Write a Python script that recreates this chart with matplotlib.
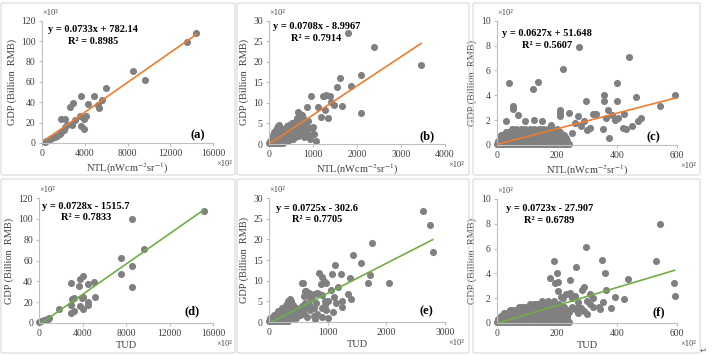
import matplotlib
matplotlib.use("Agg")
import matplotlib.pyplot as plt
from matplotlib.patches import FancyBboxPatch
import numpy as np

plt.rcParams['font.family'] = ['Liberation Serif', 'DejaVu Serif']
plt.rcParams['mathtext.fontset'] = 'stix'

# ---------------- data (x and y in units of x10^2 as shown on axes) -------------
a_x = [14447, 13608, 9632, 8544, 5996, 5624, 5282, 5313, 4909, 4319, 4132, 3884, 3573,
       3604, 3604, 3884, 2889, 2641, 2113, 1802, 2827, 3076, 2330, 2175, 1802, 1709,
       2082, 1212, 932, 621, 404, 777, 311, 1398, 3960]
a_y = [107.6, 99.4, 62.3, 70.8, 54.4, 42.3, 37.0, 34.8, 46.6, 38.0, 26.2, 24.9, 26.2,
       45.9, 16.4, 13.8, 39.7, 35.4, 23.9, 23.3, 17.4, 22.3, 17.4, 15.7, 10.8, 8.5,
       13.1, 5.9, 5.2, 3.3, 2.0, 3.9, 1.0, 6.6, 23.5]

b_x = [1788, 2386, 3455, 2091, 1621, 1864, 1545, 960, 1220, 1260, 1290, 1386, 1121, 1409,
       1477, 1667, 1273, 1333, 856, 2080, 985, 1030, 1068, 909, 742, 795, 667, 880, 1180,
       10, 40, 80, 120, 160, 200, 240, 280, 320,
       30, 70, 110, 150, 190, 230, 270, 310, 350, 390, 430,
       60, 100, 140, 180, 220, 260, 300, 340, 380, 420, 460, 500,
       90, 130, 170, 210, 250, 290, 330, 370, 410, 450, 490, 530, 570,
       120, 160, 200, 240, 280, 320, 360, 400, 440, 480, 520, 560, 600, 640,
       180, 220, 300, 380, 430, 470, 510, 550, 590, 630, 670, 710,
       210, 230, 420, 500, 540, 580, 620, 660, 700, 740,
       520, 560, 600, 640, 680, 720, 760, 800,
       610, 650, 700, 760, 820, 640, 700, 780, 700, 750,
       600, 650, 700, 750, 800, 850, 900, 930, 1000,
       150, 190, 260, 340, 400, 460, 260, 350, 450, 540, 620, 680, 720, 780, 840]
b_y = [26.9, 23.5, 19.2, 16.9, 16.1, 14.2, 13.8, 11.6, 11.8, 11.6, 11.9, 11.8, 9.1, 10.3,
       9.5, 9.2, 8.3, 6.4, 9.1, 7.5, 3.8, 2.4, 0.7, 2.2, 4.4, 1.8, 7.9, 5.5, 6.5,
       0.2, 0.2, 0.2, 0.2, 0.2, 0.2, 0.2, 0.2, 0.2,
       0.8, 0.8, 0.8, 0.8, 0.8, 0.8, 0.8, 0.8, 0.8, 0.8, 0.8,
       1.5, 1.5, 1.5, 1.5, 1.5, 1.5, 1.5, 1.5, 1.5, 1.5, 1.5, 1.5,
       2.2, 2.2, 2.2, 2.2, 2.2, 2.2, 2.2, 2.2, 2.2, 2.2, 2.2, 2.2, 2.2,
       2.9, 2.9, 2.9, 2.9, 2.9, 2.9, 2.9, 2.9, 2.9, 2.9, 2.9, 2.9, 2.9, 2.9,
       3.6, 3.6, 3.6, 3.6, 3.6, 3.6, 3.6, 3.6, 3.6, 3.6, 3.6, 3.6,
       4.3, 4.6, 4.3, 4.3, 4.3, 4.3, 4.3, 4.3, 4.3, 4.3,
       5.0, 5.0, 5.0, 5.0, 5.0, 5.0, 5.0, 5.0,
       5.7, 5.7, 5.7, 5.7, 5.7, 6.4, 6.4, 6.4, 7.2, 7.0,
       1.6, 2.0, 2.4, 2.8, 3.2, 3.0, 3.8, 1.2, 4.2,
       3.3, 3.9, 3.9, 3.3, 4.0, 4.7, 1.1, 1.1, 1.1, 1.1, 1.9, 2.6, 4.7, 4.6, 4.0]

c_x = [273, 441, 219, 138, 39, 120, 400, 356, 356, 401, 463, 595, 545, 298, 52, 55, 210,
       210, 240, 210, 270, 320, 330, 362, 370, 385, 395, 405, 420, 430, 450, 470, 480,
       425, 355, 375, 290, 300, 230, 260, 280, 310, 250, 70, 30, 95, 125, 150, 180,
       0, 10, 20, 30, 40, 50, 60, 70, 80, 90, 100, 110, 120, 130, 140, 150, 160, 170, 180,
       190, 200, 210, 220, 230, 240,
       5, 15, 25, 35, 45, 55, 65, 75, 85, 95, 105, 115, 125, 135, 145, 155, 165, 175, 185,
       195, 205, 215, 225, 235,
       10, 20, 30, 40, 50, 60, 70, 80, 90, 100, 110, 120, 130, 140, 150, 160, 170, 180, 190,
       200, 210, 220, 230,
       15, 25, 35, 45, 55, 65, 75, 85, 95, 105, 115, 125, 135, 145, 155, 165, 175, 185, 195,
       205, 215, 225,
       30, 40, 50, 60, 70, 80, 90, 100, 110, 120, 130, 140, 150, 160, 170, 180, 190, 200, 210,
       50, 65, 80, 95, 110, 125, 140, 155, 170, 185, 200]
c_y = [7.9, 7.1, 6.1, 5.05, 5.0, 4.5, 5.0, 4.0, 3.5, 3.5, 3.85, 4.05, 3.15, 3.5, 3.1, 2.9,
       2.8, 2.6, 2.6, 2.3, 2.3, 2.5, 2.5, 2.2, 2.8, 2.4, 2.0, 2.2, 1.4, 1.3, 1.5, 1.9, 2.2,
       2.5, 1.3, 0.6, 1.9, 1.2, 0.05, 1.8, 1.5, 1.4, 1.0, 2.4, 1.9, 1.9, 2.0, 1.9, 1.6,
       0.05, 0.05, 0.05, 0.05, 0.05, 0.05, 0.05, 0.05, 0.05, 0.05, 0.05, 0.05, 0.05, 0.05,
       0.05, 0.05, 0.05, 0.05, 0.05, 0.05, 0.05, 0.05, 0.05, 0.05, 0.05,
       0.3, 0.3, 0.3, 0.3, 0.3, 0.3, 0.3, 0.3, 0.3, 0.3, 0.3, 0.3, 0.3, 0.3, 0.3, 0.3, 0.3,
       0.3, 0.3, 0.3, 0.3, 0.3, 0.3, 0.3,
       0.55, 0.55, 0.55, 0.55, 0.55, 0.55, 0.55, 0.55, 0.55, 0.55, 0.55, 0.55, 0.55, 0.55,
       0.55, 0.55, 0.55, 0.55, 0.55, 0.55, 0.55, 0.55, 0.55,
       0.8, 0.8, 0.8, 0.8, 0.8, 0.8, 0.8, 0.8, 0.8, 0.8, 0.8, 0.8, 0.8, 0.8, 0.8, 0.8, 0.8,
       0.8, 0.8, 0.8, 0.8, 0.8,
       1.05, 1.05, 1.05, 1.05, 1.05, 1.05, 1.05, 1.05, 1.05, 1.05, 1.05, 1.05, 1.05, 1.05,
       1.05, 1.05, 1.05, 1.05, 1.05,
       1.3, 1.3, 1.3, 1.3, 1.3, 1.3, 1.3, 1.3, 1.3, 1.3, 1.3]

d_x = [15142, 8490, 9624, 7509, 7478, 8490, 8490, 3985, 3739, 3647, 4444, 4996, 2912,
       4046, 3892, 3218, 3004, 2912, 3739, 4444, 4506, 4046, 5149, 3188, 2912, 1808,
       920, 674, 460, 123, 828, 0]
d_y = [107.8, 99.8, 70.9, 62.3, 46.9, 54.9, 35.0, 45.6, 42.4, 35.6, 37.2, 39.8, 38.2,
       25.4, 23.7, 24.4, 23.1, 17.3, 16.4, 20.5, 17.3, 13.5, 25.0, 11.6, 9.3, 13.5,
       5.1, 3.5, 2.6, 1.9, 3.9, 0.6]

e_x = [2630, 2750, 2790, 1760, 1440, 1566, 1120, 855, 905, 1076, 1235, 1383, 1691, 2050,
       1720, 581, 630, 1065, 1180, 1350, 1405, 1250, 1085, 1250, 790, 960, 1000, 900, 820,
       1100, 1150, 700, 760, 880, 940, 980,
       0, 40, 80, 120, 160, 200, 240, 280, 320,
       20, 60, 100, 140, 180, 220, 260, 300, 340, 380, 420, 460,
       80, 120, 160, 200, 240, 280, 320, 360, 400, 440, 480, 520,
       150, 190, 230, 270, 310, 350, 390, 430, 470, 510,
       220, 260, 300, 340, 380, 420, 460,
       290, 330, 370, 410, 330, 370, 355,
       520, 560, 600, 620, 650, 700, 720, 760, 800, 820, 860, 900, 950, 980, 600, 680,
       560, 620, 760, 900, 1000, 540, 580, 640, 690]
e_y = [26.8, 23.4, 16.9, 19.0, 16.2, 14.2, 13.9, 11.8, 11.0, 11.7, 11.5, 10.7, 9.4, 9.4,
       11.4, 9.4, 7.6, 7.7, 8.5, 6.8, 5.6, 5.0, 2.5, 3.7, 0.8, 4.0, 5.0, 6.5, 7.0,
       6.0, 4.5, 5.8, 6.8, 9.3, 10.0, 9.5,
       0.2, 0.2, 0.2, 0.2, 0.2, 0.2, 0.2, 0.2, 0.2,
       1.0, 1.0, 1.0, 1.0, 1.0, 1.0, 1.0, 1.0, 1.0, 1.0, 1.0, 1.0,
       1.8, 1.8, 1.8, 1.8, 1.8, 1.8, 1.8, 1.8, 1.8, 1.8, 1.8, 1.8,
       2.6, 2.6, 2.6, 2.6, 2.6, 2.6, 2.6, 2.6, 2.6, 2.6,
       3.4, 3.4, 3.4, 3.4, 3.4, 3.4, 3.4,
       4.2, 4.2, 4.2, 4.2, 5.0, 5.0, 5.6,
       2.5, 3.8, 2.0, 4.5, 1.3, 2.8, 5.5, 3.5, 4.5, 2.0, 6.8, 3.5, 5.0, 2.8, 6.2, 7.0,
       9.4, 7.6, 1.5, 1.2, 1.0, 3.3, 3.0, 3.6, 4.2]

f_x = [544, 530, 589, 592, 191, 296, 264, 350, 359, 200, 436, 364, 392, 424, 198, 178, 195,
       205, 245, 282, 290, 244, 205, 215, 230, 355, 340, 345, 380, 320, 310, 270,
       0, 10, 20, 30, 40, 50, 60, 70, 80, 90, 100, 110, 120, 130, 140, 150, 160, 170, 180,
       190, 200, 210, 220, 230, 240,
       5, 15, 25, 35, 45, 55, 65, 75, 85, 95, 105, 115, 125, 135, 145, 155, 165, 175, 185,
       195, 205, 215, 225, 235,
       15, 25, 35, 45, 55, 65, 75, 85, 95, 105, 115, 125, 135, 145, 155, 165, 175, 185, 195,
       205, 215, 225, 235,
       25, 35, 45, 55, 65, 75, 85, 95, 105, 115, 125, 135, 145, 155, 165, 175, 185, 195,
       205, 215, 225, 235,
       45, 55, 65, 75, 85, 95, 105, 115, 125, 135, 145, 155, 165, 175, 185, 195, 205, 215,
       225, 235,
       75, 85, 95, 105, 115, 125, 135, 145, 155, 165, 175, 185, 195, 205, 215, 225,
       110, 122, 134, 146, 158, 170, 182, 194, 206, 150, 170, 190,
       240, 250, 260, 270, 280, 290, 300, 310, 320, 250, 260, 270, 300, 240, 220]
f_y = [7.95, 5.0, 3.2, 2.2, 5.0, 6.1, 4.5, 5.1, 4.05, 4.0, 3.55, 2.7, 2.1, 1.9, 0.15, 3.6,
       3.2, 3.3, 3.5, 2.7, 2.9, 2.4, 2.6, 2.1, 2.3, 1.7, 1.3, 1.1, 1.2, 2.0, 2.3, 1.3,
       0.05, 0.05, 0.05, 0.05, 0.05, 0.05, 0.05, 0.05, 0.05, 0.05, 0.05, 0.05, 0.05, 0.05,
       0.05, 0.05, 0.05, 0.05, 0.05, 0.05, 0.05, 0.05, 0.05, 0.05, 0.05,
       0.3, 0.3, 0.3, 0.3, 0.3, 0.3, 0.3, 0.3, 0.3, 0.3, 0.3, 0.3, 0.3, 0.3, 0.3, 0.3, 0.3,
       0.3, 0.3, 0.3, 0.3, 0.3, 0.3, 0.3,
       0.55, 0.55, 0.55, 0.55, 0.55, 0.55, 0.55, 0.55, 0.55, 0.55, 0.55, 0.55, 0.55, 0.55,
       0.55, 0.55, 0.55, 0.55, 0.55, 0.55, 0.55, 0.55, 0.55,
       0.8, 0.8, 0.8, 0.8, 0.8, 0.8, 0.8, 0.8, 0.8, 0.8, 0.8, 0.8, 0.8, 0.8, 0.8, 0.8, 0.8,
       0.8, 0.8, 0.8, 0.8, 0.8,
       1.05, 1.05, 1.05, 1.05, 1.05, 1.05, 1.05, 1.05, 1.05, 1.05, 1.05, 1.05, 1.05, 1.05,
       1.05, 1.05, 1.05, 1.05, 1.05, 1.05,
       1.3, 1.3, 1.3, 1.3, 1.3, 1.3, 1.3, 1.3, 1.3, 1.3, 1.3, 1.3, 1.3, 1.3, 1.3, 1.3,
       1.55, 1.55, 1.55, 1.55, 1.55, 1.55, 1.55, 1.55, 1.55, 1.8, 1.8, 1.8,
       0.9, 1.3, 1.1, 0.8, 1.2, 1.0, 0.7, 1.5, 1.3, 2.0, 2.2, 1.7, 1.8, 2.3, 2.0]

slopes = [0.0733, 0.0708, 0.0627, 0.0728, 0.0725, 0.0723]
intercepts = [782.14, -8.9967, 51.648, -1515.7, -302.6, -27.907]
r2 = ["0.8985", "0.7914", "0.5607", "0.7833", "0.7705", "0.6789"]
eq_text = ["y = 0.0733x + 782.14", "y = 0.0708x - 8.9967", "y = 0.0627x + 51.648",
           "y = 0.0728x - 1515.7", "y = 0.0725x - 302.6", "y = 0.0723x - 27.907"]
panel_tags = ["(a)", "(b)", "(c)", "(d)", "(e)", "(f)"]
x_labels = ["NTL(nWcm$^{-2}$sr$^{-1}$)"] * 3 + ["TUD"] * 3
y_label = "GDP (Billion  RMB)"
x_ticks = [[0, 4000, 8000, 12000, 16000], [0, 1000, 2000, 3000, 4000], [0, 200, 400, 600],
           [0, 4000, 8000, 12000, 16000], [0, 1000, 2000, 3000], [0, 200, 400, 600]]
y_ticks = [[0, 20, 40, 60, 80, 100, 120], [0, 5, 10, 15, 20, 25, 30], [0, 2, 4, 6, 8, 10],
           [0, 20, 40, 60, 80, 100, 120], [0, 5, 10, 15, 20, 25, 30], [0, 2, 4, 6, 8, 10]]

xs = [a_x, b_x, c_x, d_x, e_x, f_x]
ys = [a_y, b_y, c_y, d_y, e_y, f_y]
line_colors = ["#ED7D31"] * 3 + ["#70AD47"] * 3

# ---------------- layout (pixels) ----------------
W, H = 712, 356
fig = plt.figure(figsize=(W / 100, H / 100), dpi=100)

axes_px = [(42, 213, 143, 20.7), (269, 445, 144, 20.7), (497, 677, 145, 20.7),
           (39.3, 213.3, 323, 198), (269, 445, 322, 198), (497, 677, 323, 199)]
boxes_px = [(1, 235, 3, 175), (237, 469, 3, 175), (473, 700, 3, 175),
            (1, 235, 179, 353), (237, 469, 179, 353), (473, 700, 179, 353)]
eq_pos = [(0.30, 0.924, 0.826), (0.27, 0.951, 0.857), (0.28, 0.899, 0.804),
          (0.268, 0.93, 0.842), (0.274, 0.917, 0.828), (0.29, 0.925, 0.83)]
tag_pos = [(0.91, 0.065), (0.90, 0.06), (0.87, 0.065), (0.88, 0.09), (0.895, 0.083), (0.90, 0.086)]

for (x0, x1, y0, y1) in boxes_px:
    p = FancyBboxPatch((x0 / W, 1 - y1 / H), (x1 - x0) / W, (y1 - y0) / H,
                       boxstyle="round,pad=0,rounding_size=0.004",
                       transform=fig.transFigure, fill=False, edgecolor="#d9d9d9", lw=0.8)
    fig.patches.append(p)

spine_c = "#bfbfbf"
text_c = "#404040"
for i in range(6):
    l, r, b, t = axes_px[i]
    ax = fig.add_axes([l / W, 1 - b / H, (r - l) / W, (b - t) / H])
    ax.set_facecolor("none")
    ax.scatter(xs[i], ys[i], s=26, color="#808080", linewidths=0, zorder=2, clip_on=False)
    xmin, xmax = min(xs[i]), max(xs[i])
    lx = np.array([xmin, xmax], dtype=float)
    ly = (slopes[i] * lx * 100 + intercepts[i]) / 1000
    ax.plot(lx, ly, color=line_colors[i], lw=1.2, zorder=3)
    ax.set_xlim(x_ticks[i][0], x_ticks[i][-1])
    ax.set_ylim(y_ticks[i][0], y_ticks[i][-1])
    ax.set_xticks(x_ticks[i])
    ax.set_yticks(y_ticks[i])
    for s in ["top", "right"]:
        ax.spines[s].set_visible(False)
    for s in ["left", "bottom"]:
        ax.spines[s].set_color(spine_c)
        ax.spines[s].set_linewidth(0.8)
    ax.tick_params(axis="both", length=2.5, width=0.8, color=spine_c, labelsize=7,
                   labelcolor=text_c, pad=2)
    ax.set_xlabel(x_labels[i], fontsize=7.5, color=text_c, labelpad=2)
    ax.set_ylabel(y_label, fontsize=7.5, color=text_c, labelpad=3)
    ex, ey1, ey2 = eq_pos[i]
    ax.text(ex, ey1, eq_text[i], transform=ax.transAxes, ha="center", va="center",
            fontsize=7.5, fontweight="bold", color="#000000")
    ax.text(ex, ey2, "R² = " + r2[i], transform=ax.transAxes, ha="center", va="center",
            fontsize=7.5, fontweight="bold", color="#000000")
    tx, ty = tag_pos[i]
    ax.text(tx, ty, panel_tags[i], transform=ax.transAxes, ha="center", va="center",
            fontsize=9, fontweight="bold", color="#000000")
    ax.text(0.0, 1.03, "×10²", transform=ax.transAxes, ha="left", va="bottom",
            fontsize=6, color=text_c)
    ax.text(1.02, -0.17, "×10²", transform=ax.transAxes, ha="left", va="center",
            fontsize=6, color=text_c)

fig.text(703 / W, 1 - 350 / H, "↵", fontsize=6, color="#606060", ha="center", va="center",
         family=["DejaVu Sans"])

fig.savefig("out.png", dpi=100)
